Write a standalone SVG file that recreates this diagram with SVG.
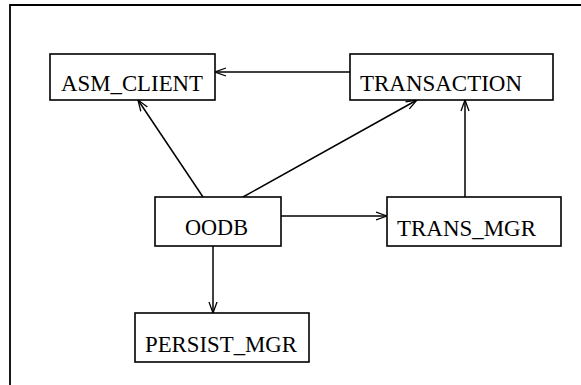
<svg xmlns="http://www.w3.org/2000/svg" width="581" height="385" viewBox="0 0 581 385">
<defs>
<marker id="arr" viewBox="0 0 12 10" refX="11.5" refY="5" markerWidth="12" markerHeight="10" markerUnits="userSpaceOnUse" orient="auto">
<path d="M0.5,1 L11.5,5 L0.5,9" fill="none" stroke="#000" stroke-width="1.3"/>
</marker>
<style>
.box{fill:#fff;stroke:#000;stroke-width:1.6}
.lbl{font-family:"Liberation Serif","Times New Roman",serif;font-size:22.5px;fill:#000}
.edge{fill:none;stroke:#000;stroke-width:1.5;marker-end:url(#arr)}
</style>
</defs>
<rect width="581" height="385" fill="#fff"/>
<path d="M10,385 V5 H581" fill="none" stroke="#000" stroke-width="1.8"/>
<g id="connectors">
<line class="edge" x1="350" y1="72" x2="215" y2="72"/>
<line class="edge" x1="203" y1="197" x2="138" y2="100"/>
<line class="edge" x1="243" y1="197" x2="417" y2="100"/>
<line class="edge" x1="281" y1="216" x2="387" y2="216"/>
<line class="edge" x1="213" y1="246" x2="213" y2="313"/>
<line class="edge" x1="465" y1="197" x2="465" y2="100"/>
</g>
<g id="ASM_CLIENT">
<rect class="box" x="50" y="54" width="165" height="46"/>
<text class="lbl" x="61" y="91" textLength="142" lengthAdjust="spacingAndGlyphs">ASM_CLIENT</text>
</g>
<g id="TRANSACTION">
<rect class="box" x="350" y="54" width="203" height="46"/>
<text class="lbl" x="360" y="91" textLength="162" lengthAdjust="spacingAndGlyphs">TRANSACTION</text>
</g>
<g id="OODB">
<rect class="box" x="155" y="197" width="126" height="49"/>
<text class="lbl" x="185" y="235" textLength="63" lengthAdjust="spacingAndGlyphs">OODB</text>
</g>
<g id="TRANS_MGR">
<rect class="box" x="387" y="197" width="174" height="49"/>
<text class="lbl" x="397" y="236" textLength="139" lengthAdjust="spacingAndGlyphs">TRANS_MGR</text>
</g>
<g id="PERSIST_MGR">
<rect class="box" x="135" y="313" width="174" height="49"/>
<text class="lbl" x="145" y="352" textLength="152" lengthAdjust="spacingAndGlyphs">PERSIST_MGR</text>
</g>
</svg>
